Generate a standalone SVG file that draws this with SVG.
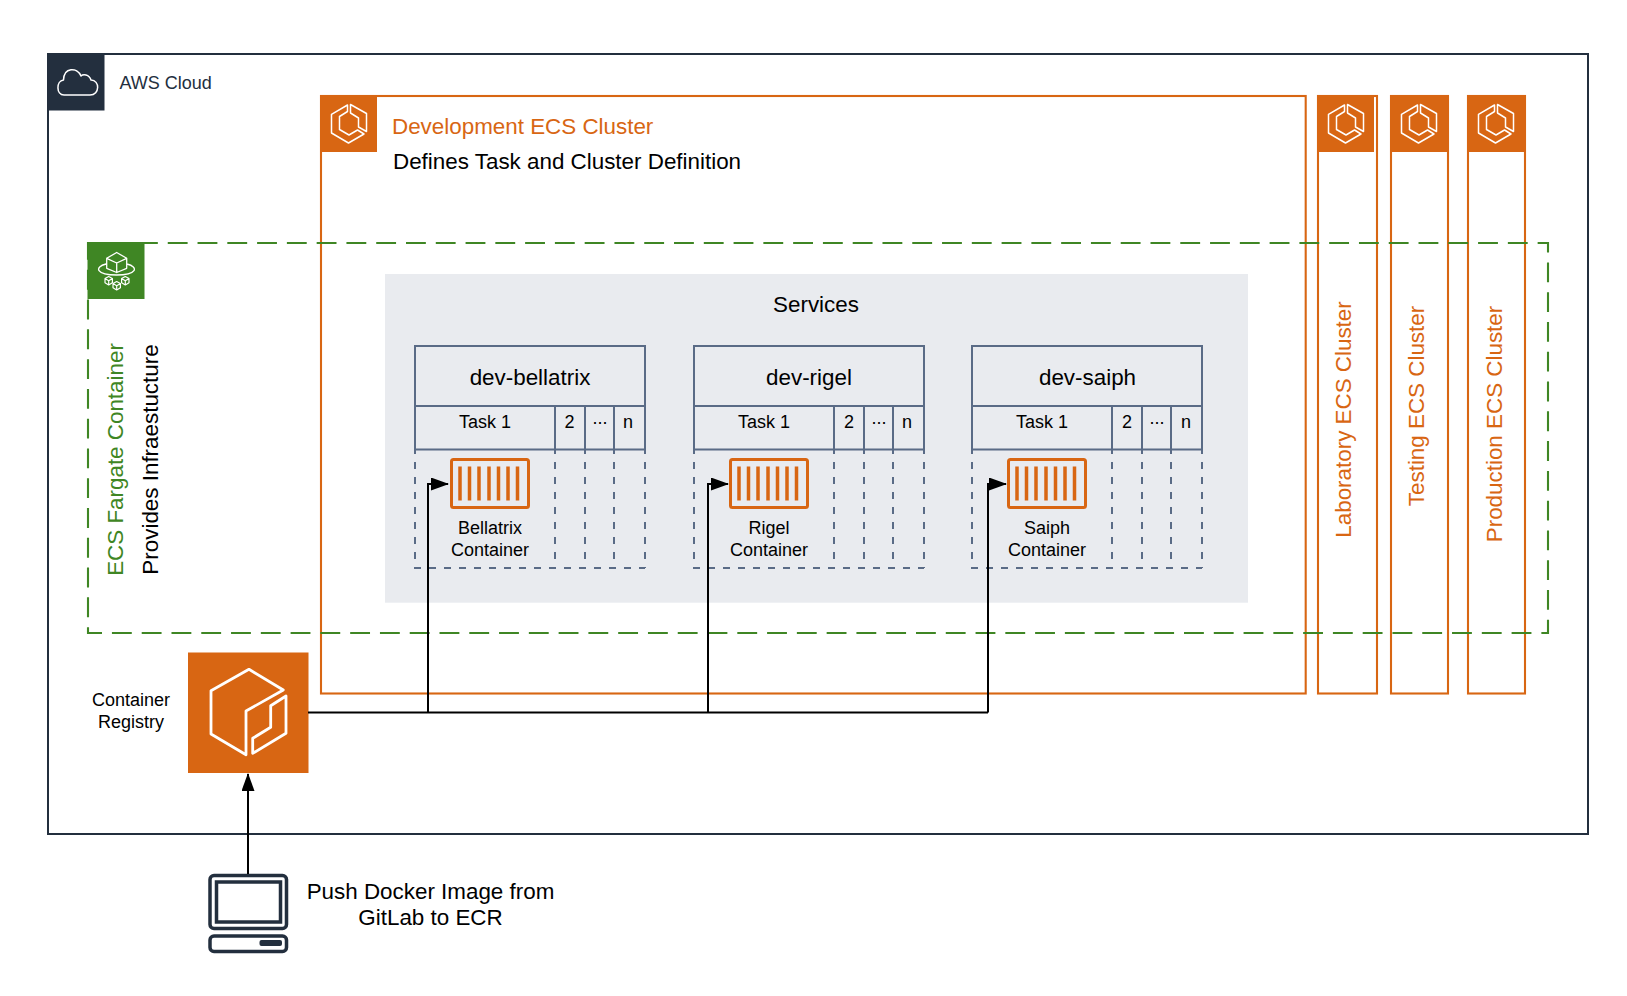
<svg xmlns="http://www.w3.org/2000/svg" width="1627" height="996" viewBox="0 0 1627 996">
<style>
text{font-family:"Liberation Sans",Arial,sans-serif;fill:#000}
.m{text-anchor:middle}
.l{font-size:22.4px}
.s{font-size:18px}
.box{fill:none;stroke:#D86613;stroke-width:2.1}
.ic{fill:#D86613}
.gl{fill:none;stroke:#fff;stroke-width:1.5;stroke-linejoin:round;stroke-linecap:round}
.tb{fill:none;stroke:#5A6B86;stroke-width:2}
.td{fill:none;stroke:#5A6B86;stroke-width:2;stroke-dasharray:7 8;stroke-dashoffset:2}
.or{fill:#D86613;font-size:22.4px}
.wire{fill:none;stroke:#000;stroke-width:2}
</style>
<defs>
<marker id="ah" markerUnits="userSpaceOnUse" markerWidth="20" markerHeight="14" refX="17" refY="6.500" orient="auto"><path d="M0 0L18 6.500L0 13Z" fill="#000"/></marker>
<g id="ecs">
<rect class="ic" width="57" height="57"/>
<path class="gl" d="M27.500 10L11.500 19.300V38L28.500 48L44 39L37.500 35L29 40L19.500 34.500V21.500L27.500 16.500Z"/>
<path class="gl" d="M30.500 9.500L46.500 18.500V36.500L38.500 32V23L30.500 18Z"/>
</g>
<g id="ctr">
<rect x="1.500" y="1.500" width="77" height="48" rx="2" fill="none" stroke="#D86613" stroke-width="3"/>
<path d="M10 8.500V42.500M19.500 8.500V42.500M29 8.500V42.500M39 8.500V42.500M48.500 8.500V42.500M58 8.500V42.500M67.500 8.500V42.500" stroke="#D86613" stroke-width="3.500" fill="none"/>
</g>
<path id="cube" class="gl" style="stroke-width:1.200" d="M0 -4.200L3.700 -2.100V2.100L0 4.200L-3.700 2.100V-2.100ZM-3.700 -2.100L0 0L3.700 -2.100M0 0V4.200"/>
</defs>
<rect width="1627" height="996" fill="#fff"/>
<g id="aws-cloud">
<rect x="48" y="54" width="1540" height="780" fill="none" stroke="#232F3E" stroke-width="2"/>
<rect x="47" y="53" width="57.500" height="57.500" fill="#232F3E"/>
<path class="gl" d="M64 95H90C100 95 100 80 91 80C89 74 83 74 81 76C77 67 64 67 63.500 80C56 81 56 95 64 95Z"/>
<text x="119.500" y="88.500" class="s" style="fill:#232F3E">AWS Cloud</text>
</g>
<g id="dev-cluster">
<rect class="box" x="321" y="96" width="984.700" height="597.500"/>
<use href="#ecs" x="320" y="95"/>
<text x="392" y="134" class="or">Development ECS Cluster</text>
<text x="393" y="169" class="l">Defines Task and Cluster Definition</text>
</g>
<g id="lab-cluster">
<rect class="box" x="1318" y="96" width="59" height="597.500"/>
<use href="#ecs" x="1317" y="95"/>
<text transform="translate(1351 419.500) rotate(-90)" class="m or">Laboratory ECS Cluster</text>
</g>
<g id="test-cluster">
<rect class="box" x="1391" y="96" width="57" height="597.500"/>
<use href="#ecs" x="1390" y="95"/>
<text transform="translate(1424 406) rotate(-90)" class="m or">Testing ECS Cluster</text>
</g>
<g id="prod-cluster">
<rect class="box" x="1468" y="96" width="57" height="597.500"/>
<use href="#ecs" x="1467" y="95"/>
<text transform="translate(1502 424) rotate(-90)" class="m or">Production ECS Cluster</text>
</g>
<g id="fargate">
<rect x="88" y="243" width="1460" height="390" fill="none" stroke="#3F8624" stroke-width="2.100" stroke-dasharray="19.85 9.93" stroke-dashoffset="9.58"/>
<rect x="87.500" y="242" width="57" height="57" fill="#3F8624"/>
<path class="gl" style="stroke-width:1.300" d="M106.700 258.300L116.700 252.500L126.700 258.300V268.300L116.700 272.500L106.700 268.300ZM106.700 258.300L116.700 263L126.700 258.300M116.700 263V272.500M106 264C94 267 96 275 116.500 275C137 275 139 267 127 264"/>
<use href="#cube" x="108.700" y="280.700"/><use href="#cube" x="116.700" y="285.700"/><use href="#cube" x="125.300" y="280.700"/>
<text transform="translate(123 459.500) rotate(-90)" class="m l" style="fill:#3F8624">ECS Fargate Container</text>
<text transform="translate(158 459.500) rotate(-90)" class="m l">Provides Infraestucture</text>
</g>
<g id="services">
<rect x="385" y="274" width="863" height="328.700" fill="#E9EBEF"/>
<text x="816" y="312" class="m l">Services</text>
</g>
<g id="dev-bellatrix">
<path class="tb" d="M415 449.500V346H645V449.500M415 406H645M415 449.500H645M555 406V449.500M585 406V449.500M614 406V449.500"/>
<path class="td" d="M415 449V568H645M645 449V568M555 449V568M585 449V568M614 449V568"/>
<text x="530" y="384.500" class="m l">dev-bellatrix</text>
<text x="485" y="427.500" class="m s">Task 1</text><text x="569.500" y="427.500" class="m s">2</text><text x="600" y="424" class="m s">...</text><text x="628" y="427.500" class="m s">n</text>
<use href="#ctr" x="450" y="458"/>
<text x="490" y="533.500" class="m s">Bellatrix</text><text x="490" y="555.500" class="m s">Container</text>
</g>
<g id="dev-rigel">
<path class="tb" d="M694 449.500V346H924V449.500M694 406H924M694 449.500H924M834 406V449.500M864 406V449.500M893 406V449.500"/>
<path class="td" d="M694 449V568H924M924 449V568M834 449V568M864 449V568M893 449V568"/>
<text x="809" y="384.500" class="m l">dev-rigel</text>
<text x="764" y="427.500" class="m s">Task 1</text><text x="849" y="427.500" class="m s">2</text><text x="879" y="424" class="m s">...</text><text x="907" y="427.500" class="m s">n</text>
<use href="#ctr" x="729" y="458"/>
<text x="769" y="533.500" class="m s">Rigel</text><text x="769" y="555.500" class="m s">Container</text>
</g>
<g id="dev-saiph">
<path class="tb" d="M972 449.500V346H1202V449.500M972 406H1202M972 449.500H1202M1112 406V449.500M1142 406V449.500M1171 406V449.500"/>
<path class="td" d="M972 449V568H1202M1202 449V568M1112 449V568M1142 449V568M1171 449V568"/>
<text x="1087.500" y="384.500" class="m l">dev-saiph</text>
<text x="1042" y="427.500" class="m s">Task 1</text><text x="1127" y="427.500" class="m s">2</text><text x="1157" y="424" class="m s">...</text><text x="1186" y="427.500" class="m s">n</text>
<use href="#ctr" x="1007" y="458"/>
<text x="1047" y="533.500" class="m s">Saiph</text><text x="1047" y="555.500" class="m s">Container</text>
</g>
<g id="registry">
<rect x="188" y="652.500" width="120.500" height="120.500" fill="#D86613"/>
<path d="M249 669.300L211 690.700V734L246 754.700V711L283.300 690ZM252.700 753.300V738.300L270.700 727.300V705.700L286 696V733.300Z" fill="none" stroke="#fff" stroke-width="2.800" stroke-linejoin="round"/>
<text x="131" y="706" class="m s">Container</text><text x="131" y="728" class="m s">Registry</text>
</g>
<g id="laptop">
<rect x="210" y="875.500" width="76.500" height="53" rx="4" fill="none" stroke="#232F3E" stroke-width="3.500"/>
<rect x="216.500" y="882" width="64" height="40" fill="none" stroke="#232F3E" stroke-width="3.500"/>
<rect x="210" y="936" width="76.500" height="15.500" rx="4" fill="none" stroke="#232F3E" stroke-width="3.500"/>
<rect x="259.500" y="940" width="22.500" height="6" rx="2" fill="#232F3E"/>
<text x="430.500" y="899" class="m l">Push Docker Image from</text><text x="430.500" y="925" class="m l">GitLab to ECR</text>
</g>
<g id="connectors">
<path class="wire" d="M308 712.500H988"/>
<path class="wire" marker-end="url(#ah)" d="M428 712.500V484H448"/>
<path class="wire" marker-end="url(#ah)" d="M708 712.500V484H728"/>
<path class="wire" marker-end="url(#ah)" d="M988 712.500V484H1006"/>
<path class="wire" marker-end="url(#ah)" d="M248 874V774"/>
</g>
</svg>
